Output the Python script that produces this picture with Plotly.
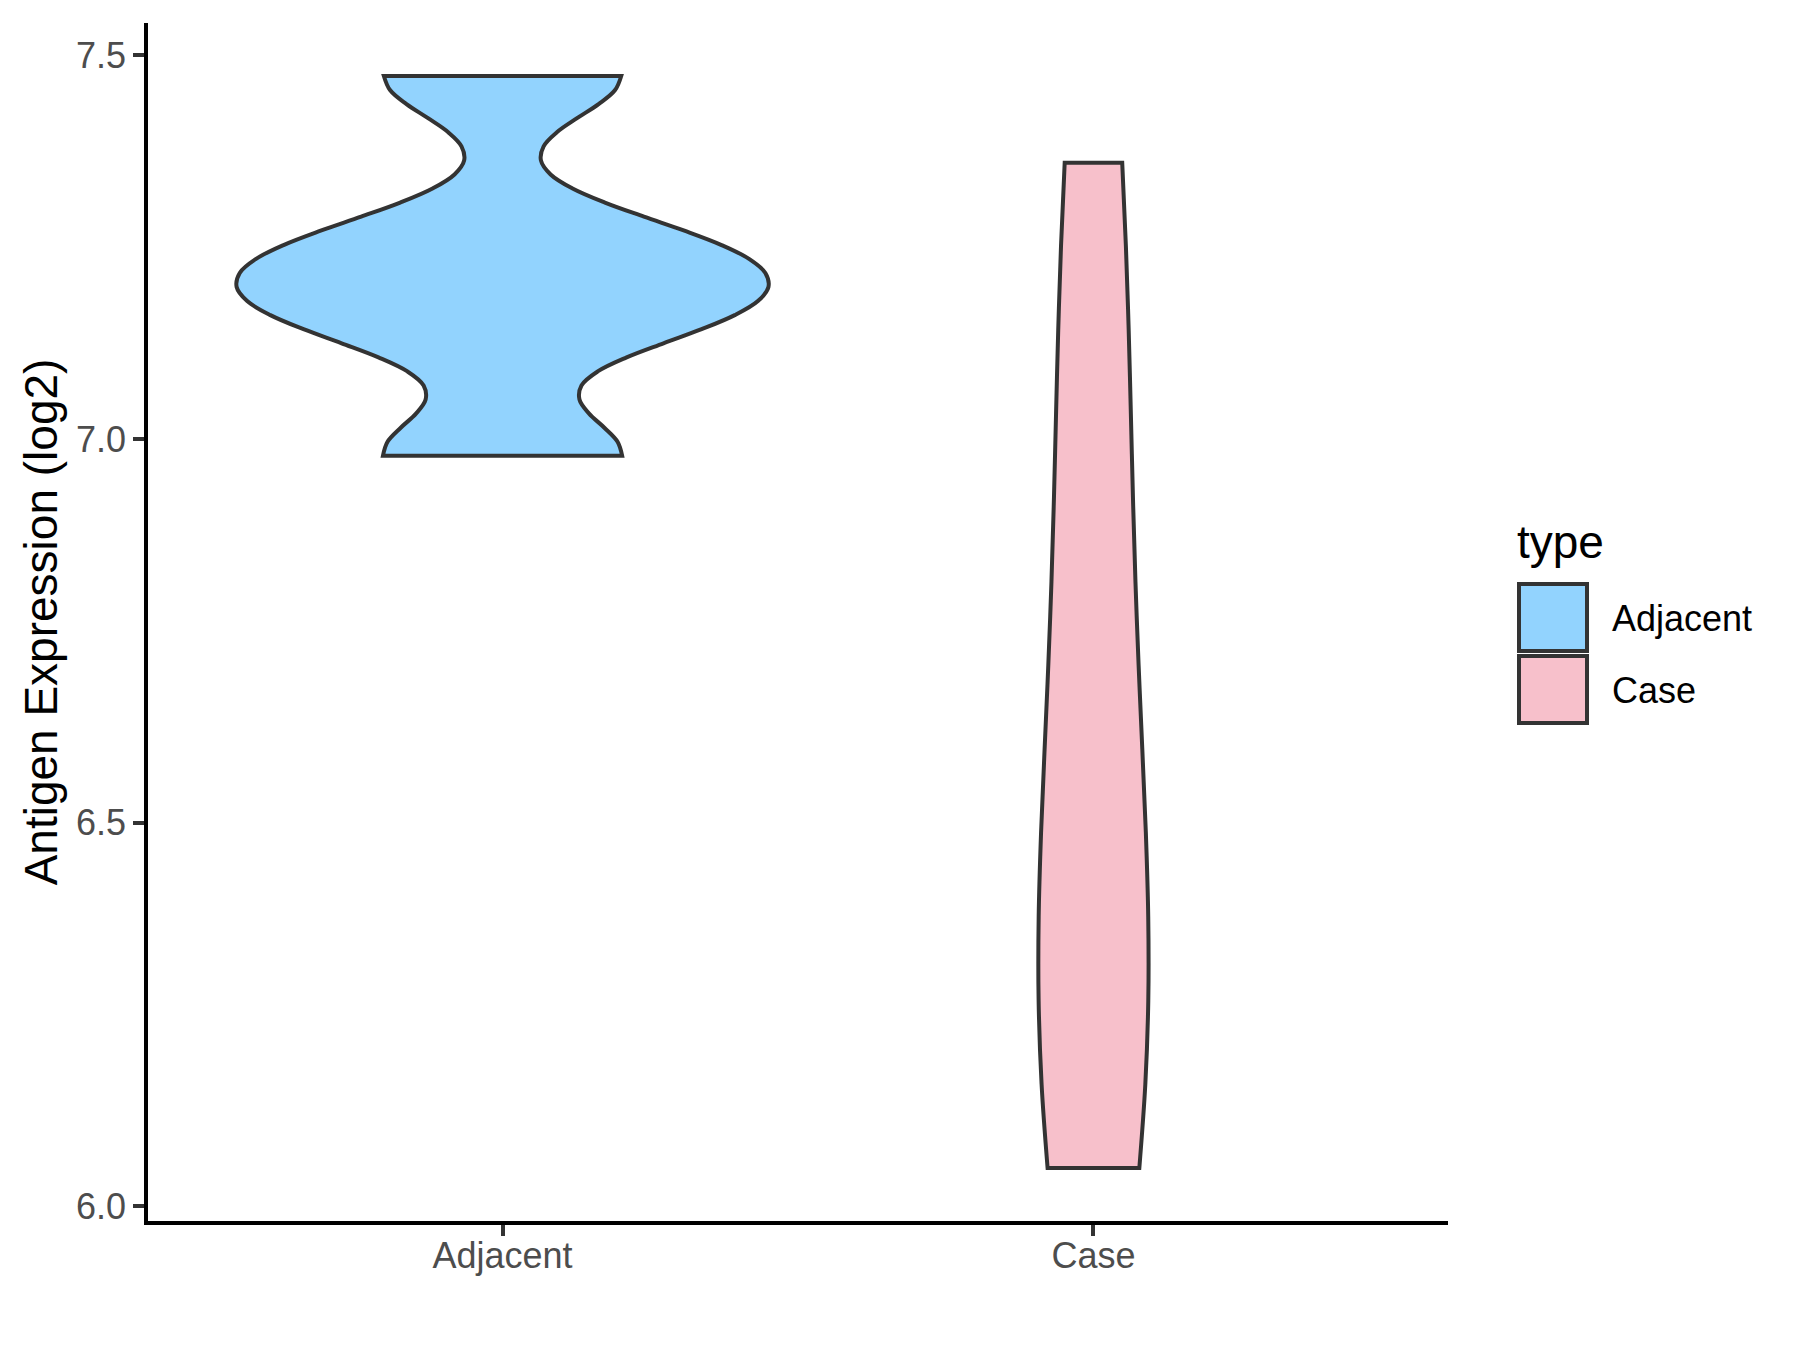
import numpy as np
import plotly.graph_objects as go

# ---------------- data ----------------
categories = ["Adjacent", "Case"]
adjacent_values = [6.978, 7.15, 7.203, 7.258, 7.473]
case_values = [6.05, 6.24, 6.48, 6.92, 7.36]
bandwidths = [0.0555, 0.335]
y_ticks = [6.0, 6.5, 7.0, 7.5]
y_tick_labels = ["6.0", "6.5", "7.0", "7.5"]
legend_title = "type"
y_title = "Antigen Expression (log2)"

# ---------------- style ----------------
fill_colors = ["#92D3FE", "#F7C0CB"]
outline = "#333333"
font_family = "Liberation Sans, Arial, sans-serif"
W, H = 1800, 1350
L, R, T, B = 148, 1448, 23, 1221  # plot panel in pixels

series = [adjacent_values, case_values]


def peak_density(vals, bw):
    v = np.asarray(vals, dtype=float)
    grid = np.linspace(v.min(), v.max(), 1024)
    k = np.exp(-0.5 * ((grid[:, None] - v[None, :]) / bw) ** 2)
    dens = k.sum(axis=1) / (len(v) * bw * np.sqrt(2 * np.pi))
    return dens.max()


# ggplot-like "area" scaling: widest violin gets 0.9 of category spacing
peaks = [peak_density(s, b) for s, b in zip(series, bandwidths)]
widths = [0.9 * p / max(peaks) for p in peaks]

fig = go.Figure()
for cat, vals, bw, col, w in zip(categories, series, bandwidths, fill_colors, widths):
    fig.add_trace(go.Violin(
        x=[cat] * len(vals),
        y=vals,
        name=cat,
        bandwidth=bw,
        spanmode="hard",
        points=False,
        box_visible=False,
        meanline_visible=False,
        fillcolor=col,
        opacity=1,
        line=dict(color=outline, width=4),
        width=w,
        scalemode="width",
        showlegend=False,
        hoverinfo="skip",
    ))


def px_x(px):
    return (px - L) / (R - L)


def px_y(py):
    return (B - py) / (B - T)


shapes = []
annotations = []
# custom legend (ggplot-style big keys)
annotations.append(dict(
    text=legend_title, xref="paper", yref="paper",
    x=px_x(1515), y=px_y(542), xanchor="left", yanchor="middle",
    showarrow=False, font=dict(family=font_family, size=46, color="black"),
))
key_tops = [584, 656]
label_mid = [618.5, 690]
for cat, col, top, mid in zip(categories, fill_colors, key_tops, label_mid):
    shapes.append(dict(
        type="rect", xref="paper", yref="paper",
        x0=px_x(1519), x1=px_x(1587), y0=px_y(top), y1=px_y(top + 67),
        fillcolor=col, line=dict(color=outline, width=4), layer="above",
    ))
    annotations.append(dict(
        text=cat, xref="paper", yref="paper",
        x=px_x(1610), y=px_y(mid), xanchor="left", yanchor="middle",
        showarrow=False, font=dict(family=font_family, size=36, color="black"),
    ))

fig.update_layout(
    width=W, height=H,
    margin=dict(l=L, r=W - R, t=T, b=H - B, pad=0),
    paper_bgcolor="white", plot_bgcolor="white",
    font=dict(family=font_family, color="#4D4D4D"),
    violinmode="overlay",
    showlegend=False,
    shapes=shapes,
    annotations=annotations,
)
fig.update_xaxes(
    type="category", categoryorder="array", categoryarray=categories,
    range=[-0.6, 1.6],
    showline=True, linecolor="black", linewidth=3.5,
    ticks="outside", ticklen=11, tickwidth=3.5, tickcolor=outline,
    tickfont=dict(size=36, color="#4D4D4D", family=font_family),
    ticklabelstandoff=-11,
    showgrid=False, zeroline=False,
)
fig.update_yaxes(
    range=[5.981, 7.542],
    tickmode="array", tickvals=y_ticks, ticktext=y_tick_labels,
    showline=True, linecolor="black", linewidth=3.5,
    ticks="outside", ticklen=11, tickwidth=3.5, tickcolor=outline,
    tickfont=dict(size=36, color="#4D4D4D", family=font_family),
    showgrid=False, zeroline=False,
    title=dict(text=y_title, font=dict(size=46, color="black", family=font_family), standoff=5),
)

fig.write_html(
    "out.html",
    config={"displayModeBar": False},
    post_script="document.body.style.margin='0';",
)
